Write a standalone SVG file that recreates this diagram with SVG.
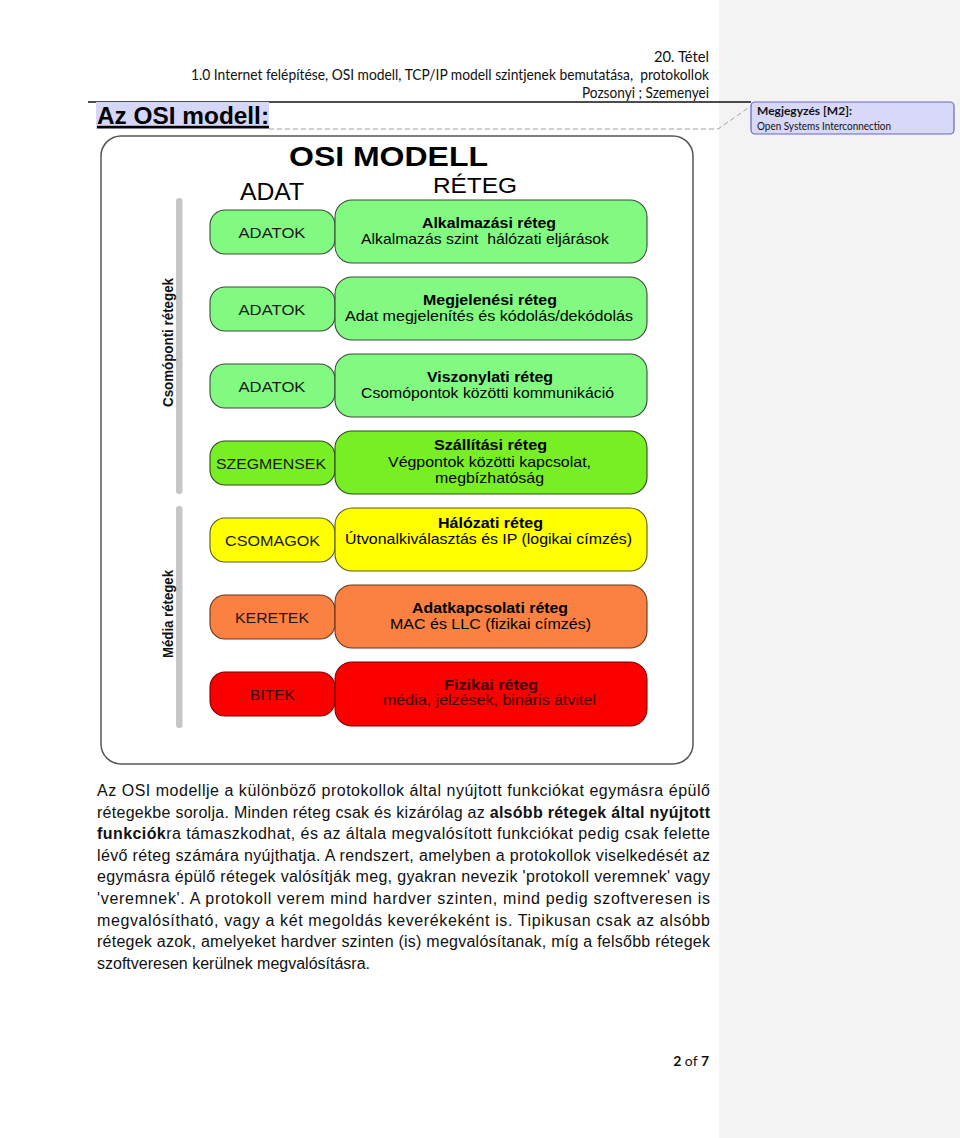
<svg xmlns="http://www.w3.org/2000/svg" width="960" height="1138" viewBox="0 0 960 1138">
<style>
.hdr{font-family:Lato,"Open Sans","Liberation Sans",sans-serif;font-size:15px;fill:#111;text-anchor:end}
.ar{font-family:"Liberation Sans",Arial,sans-serif}
.body{font-family:"Liberation Sans",Arial,sans-serif;font-size:16px;fill:#111}
.b{font-weight:bold}
.lbl{font-family:"Liberation Sans",Arial,sans-serif;font-size:15.5px;fill:#1a1a1a;text-anchor:middle}
.ttl{font-family:"Liberation Sans",Arial,sans-serif;font-size:15px;font-weight:bold;fill:#000;text-anchor:middle}
.sub{font-family:"Liberation Sans",Arial,sans-serif;font-size:15px;fill:#000;text-anchor:middle}
.g1{fill:#82fa82;stroke:#3a4a3a;stroke-width:1.1}
.g2{fill:#78ef24;stroke:#2e4a1a;stroke-width:1.1}
.y{fill:#ffff00;stroke:#5a5a20;stroke-width:1.1}
.o{fill:#fb8142;stroke:#6a3418;stroke-width:1.1}
.r{fill:#fc0000;stroke:#7a0000;stroke-width:1.1}
.bar{fill:#c6c6c6}
.side{font-family:"Liberation Sans",Arial,sans-serif;font-size:15px;font-weight:bold;fill:#111;text-anchor:middle}
.cm{font-family:Lato,"Open Sans","Liberation Sans",sans-serif;fill:#111}
</style>
<rect x="0" y="0" width="960" height="1138" fill="#ffffff"/>
<rect x="719" y="0" width="241" height="1138" fill="#f3f3f3"/>

<g id="header">
<text class="hdr" x="709" y="62" textLength="55" lengthAdjust="spacingAndGlyphs">20. Tétel</text>
<text class="hdr" x="709" y="80" textLength="518" lengthAdjust="spacingAndGlyphs" xml:space="preserve">1.0 Internet felépítése, OSI modell, TCP/IP modell szintjenek bemutatása,  protokollok</text>
<text class="hdr" x="709" y="98" textLength="127" lengthAdjust="spacingAndGlyphs">Pozsonyi ; Szemenyei</text>
<line x1="88" y1="102" x2="751" y2="102" stroke="#111" stroke-width="1.3"/>
</g>

<g id="title">
<rect x="96" y="102" width="173" height="27" fill="#d6d6f6"/>
<text class="ar b" x="97" y="124" font-size="23" fill="#000" textLength="172" lengthAdjust="spacingAndGlyphs">Az OSI modell:</text>
<rect x="97" y="125.8" width="172" height="2.6" fill="#000"/>
</g>

<g id="connectors">
<polyline points="269,129 718,129 751,106" fill="none" stroke="#a0a0a0" stroke-width="1" stroke-dasharray="5 3"/>
</g>

<g id="comment">
<rect x="751" y="102" width="203" height="32" rx="4" fill="#d8d8f8" stroke="#6666c8" stroke-width="1.2"/>
<text class="cm" x="757" y="115" font-size="11.5" font-weight="bold" textLength="95" lengthAdjust="spacingAndGlyphs">Megjegyzés [M2]:</text>
<text class="cm" x="757" y="129.5" font-size="10.5" textLength="134" lengthAdjust="spacingAndGlyphs">Open Systems Interconnection</text>
</g>

<g id="osi-frame">
<rect x="101" y="136" width="592" height="628" rx="20" fill="#ffffff" stroke="#555" stroke-width="1.5"/>
<text class="ar b" x="388.5" y="166" font-size="28" fill="#000" text-anchor="middle" textLength="199" lengthAdjust="spacingAndGlyphs">OSI MODELL</text>
<text class="ar" x="272" y="200" font-size="23" fill="#000" text-anchor="middle" textLength="64" lengthAdjust="spacingAndGlyphs">ADAT</text>
<text class="ar" x="475" y="193" font-size="22" fill="#000" text-anchor="middle" textLength="84" lengthAdjust="spacingAndGlyphs">RÉTEG</text>
</g>

<g id="side-labels">
<rect class="bar" x="176" y="198" width="6.5" height="296" rx="3"/>
<rect class="bar" x="176" y="506" width="6.5" height="222" rx="3"/>
<text class="side" transform="translate(172.5,342.5) rotate(-90)" textLength="129" lengthAdjust="spacingAndGlyphs">Csomóponti rétegek</text>
<text class="side" transform="translate(172.5,614) rotate(-90)" textLength="88" lengthAdjust="spacingAndGlyphs">Média rétegek</text>
</g>

<g id="layer-7">
<rect class="g1" x="210" y="210" width="125" height="44" rx="15"/>
<rect class="g1" x="335" y="200" width="312" height="63" rx="17"/>
<text class="lbl" x="272" y="237.5" textLength="67" lengthAdjust="spacingAndGlyphs">ADATOK</text>
<text class="ttl" x="489" y="228" textLength="134" lengthAdjust="spacingAndGlyphs">Alkalmazási réteg</text>
<text class="sub" x="485" y="244" textLength="248" lengthAdjust="spacingAndGlyphs" xml:space="preserve">Alkalmazás szint  hálózati eljárások</text>
</g>

<g id="layer-6">
<rect class="g1" x="210" y="287" width="125" height="44" rx="15"/>
<rect class="g1" x="335" y="277" width="312" height="63" rx="17"/>
<text class="lbl" x="272" y="314.5" textLength="67" lengthAdjust="spacingAndGlyphs">ADATOK</text>
<text class="ttl" x="490" y="305" textLength="134" lengthAdjust="spacingAndGlyphs">Megjelenési réteg</text>
<text class="sub" x="489" y="320.5" textLength="288" lengthAdjust="spacingAndGlyphs">Adat megjelenítés és kódolás/dekódolás</text>
</g>

<g id="layer-5">
<rect class="g1" x="210" y="364" width="125" height="44" rx="15"/>
<rect class="g1" x="335" y="354" width="312" height="63" rx="17"/>
<text class="lbl" x="272" y="391.5" textLength="67" lengthAdjust="spacingAndGlyphs">ADATOK</text>
<text class="ttl" x="490" y="382" textLength="126" lengthAdjust="spacingAndGlyphs">Viszonylati réteg</text>
<text class="sub" x="487.5" y="397.5" textLength="253" lengthAdjust="spacingAndGlyphs">Csomópontok közötti kommunikáció</text>
</g>

<g id="layer-4">
<rect class="g2" x="210" y="441" width="125" height="44" rx="15"/>
<rect class="g2" x="335" y="431" width="312" height="63" rx="17"/>
<text class="lbl" x="271" y="468.5" textLength="110" lengthAdjust="spacingAndGlyphs">SZEGMENSEK</text>
<text class="ttl" x="490.5" y="450" textLength="113" lengthAdjust="spacingAndGlyphs">Szállítási réteg</text>
<text class="sub" x="489.5" y="466.5" textLength="203" lengthAdjust="spacingAndGlyphs">Végpontok közötti kapcsolat,</text>
<text class="sub" x="489.5" y="482.5" textLength="109" lengthAdjust="spacingAndGlyphs">megbízhatóság</text>
</g>

<g id="layer-3">
<rect class="y" x="210" y="518" width="125" height="44" rx="15"/>
<rect class="y" x="335" y="508" width="312" height="63" rx="17"/>
<text class="lbl" x="272.5" y="545.5" textLength="95" lengthAdjust="spacingAndGlyphs">CSOMAGOK</text>
<text class="ttl" x="490.5" y="527.5" textLength="105" lengthAdjust="spacingAndGlyphs">Hálózati réteg</text>
<text class="sub" x="488.5" y="544" textLength="287" lengthAdjust="spacingAndGlyphs">Útvonalkiválasztás és IP (logikai címzés)</text>
</g>

<g id="layer-2">
<rect class="o" x="210" y="595" width="125" height="44" rx="15"/>
<rect class="o" x="335" y="585" width="312" height="63" rx="17"/>
<text class="lbl" x="272" y="622.5" textLength="74" lengthAdjust="spacingAndGlyphs">KERETEK</text>
<text class="ttl" x="490" y="612.5" textLength="156" lengthAdjust="spacingAndGlyphs">Adatkapcsolati réteg</text>
<text class="sub" x="490.5" y="628.5" textLength="201" lengthAdjust="spacingAndGlyphs">MAC és LLC (fizikai címzés)</text>
</g>

<g id="layer-1">
<rect class="r" x="210" y="672" width="125" height="44" rx="15"/>
<rect class="r" x="335" y="662" width="312" height="64" rx="17"/>
<text class="lbl" x="272.5" y="699.5" style="fill:#3a0000" textLength="45" lengthAdjust="spacingAndGlyphs">BITEK</text>
<text class="ttl" x="491" y="689.5" style="fill:#3a0000" textLength="94" lengthAdjust="spacingAndGlyphs">Fizikai réteg</text>
<text class="sub" x="489.5" y="705" style="fill:#3a0000" textLength="213" lengthAdjust="spacingAndGlyphs">média, jelzések, bináris átvitel</text>
</g>

<g id="body-text">
<text class="body" x="97" y="796" textLength="613" lengthAdjust="spacing">Az OSI modellje a különböző protokollok által nyújtott funkciókat egymásra épülő</text>
<text class="body" x="97" y="817.6" textLength="613" lengthAdjust="spacing">rétegekbe sorolja. Minden réteg csak és kizárólag az <tspan class="b">alsóbb rétegek által nyújtott</tspan></text>
<text class="body" x="97" y="839.2" textLength="613" lengthAdjust="spacing"><tspan class="b">funkciók</tspan>ra támaszkodhat, és az általa megvalósított funkciókat pedig csak felette</text>
<text class="body" x="97" y="860.8" textLength="613" lengthAdjust="spacing">lévő réteg számára nyújthatja. A rendszert, amelyben a protokollok viselkedését az</text>
<text class="body" x="97" y="882.4" textLength="613" lengthAdjust="spacing">egymásra épülő rétegek valósítják meg, gyakran nevezik 'protokoll veremnek' vagy</text>
<text class="body" x="97" y="904" textLength="613" lengthAdjust="spacing">'veremnek'. A protokoll verem mind hardver szinten, mind pedig szoftveresen is</text>
<text class="body" x="97" y="925.6" textLength="613" lengthAdjust="spacing">megvalósítható, vagy a két megoldás keverékeként is. Tipikusan csak az alsóbb</text>
<text class="body" x="97" y="947.2" textLength="613" lengthAdjust="spacing">rétegek azok, amelyeket hardver szinten (is) megvalósítanak, míg a felsőbb rétegek</text>
<text class="body" x="97" y="968.8">szoftveresen kerülnek megvalósításra.</text>
</g>

<g id="page-number">
<text x="709" y="1066" text-anchor="end" font-family="Lato,'Open Sans','Liberation Sans',sans-serif" font-size="14" fill="#111"><tspan font-weight="bold">2</tspan> of <tspan font-weight="bold">7</tspan></text>
</g>
</svg>
